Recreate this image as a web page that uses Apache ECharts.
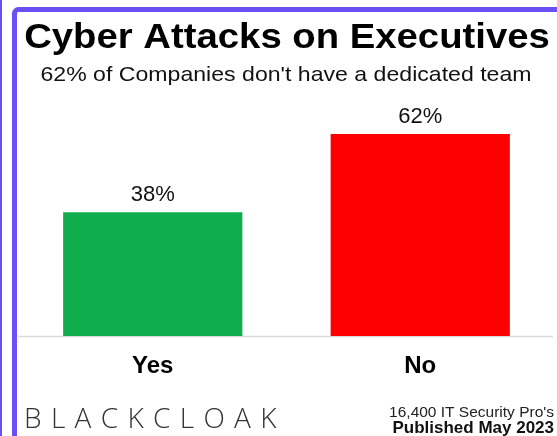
<!DOCTYPE html>
<html><head><meta charset="utf-8">
<script src="https://cdn.jsdelivr.net/npm/echarts@6/dist/echarts.min.js"></script>
<style>html,body{margin:0;padding:0;background:#fff}#c{width:557px;height:436px}</style>
</head><body><div id="c"></div>
<script>
const categories = ['Yes', 'No'];
const values = [38, 62];
const barColors = ['#10ad4f', '#ff0000'];
const titleText = 'Cyber Attacks on Executives';
const subtitleText = "62% of Companies don't have a dedicated team";
const brandText = 'BLACKCLOAK';
const noteLines = ["16,400 IT Security Pro's", 'Published May 2023'];

const chart = echarts.init(document.getElementById('c'));
const purple = '#6a4ff5';
chart.setOption({
  backgroundColor: '#fff',
  animation: false,
  grid: { left: 19, right: 3, top: 134, bottom: 100, containLabel: false },
  xAxis: {
    type: 'category', data: categories,
    axisLine: { show: false }, axisTick: { show: false },
    axisLabel: { margin: 18, fontFamily: 'Liberation Sans', fontWeight: 'bold', fontSize: 24, color: '#000' }
  },
  yAxis: { type: 'value', min: 0, max: 62, show: false, splitLine: { show: false } },
  series: [{
    type: 'bar', barWidth: '67%',
    data: values.map((v, i) => ({ value: v, itemStyle: { color: barColors[i] } })),
    label: { show: true, position: 'top', distance: 6, formatter: '{c}%',
      fontFamily: 'Liberation Sans', fontSize: 22, color: '#111' }
  }],
  graphic: [
    { type: 'rect', shape: { x: 0, y: 0, width: 2, height: 436 }, style: { fill: purple }, silent: true },
    { type: 'rect', shape: { x: 14.5, y: 9.5, width: 620, height: 520, r: 4 }, style: { fill: 'none', stroke: purple, lineWidth: 5 }, silent: true },
    { type: 'line', shape: { x1: 18, y1: 336.5, x2: 553, y2: 336.5 }, style: { stroke: '#dcdcdc', lineWidth: 1.5 }, silent: true },
    { type: 'text', x: 287, y: 21, scaleX: 1.094, style: { text: titleText, font: 'bold 35px "Liberation Sans"', fill: '#000', textAlign: 'center', textVerticalAlign: 'top' } },
    { type: 'text', x: 286, y: 65, scaleX: 1.10, style: { text: subtitleText, font: '21px "Liberation Sans"', fill: '#111', textAlign: 'center', textVerticalAlign: 'top' } },
    { type: 'text', x: 24, y: 406, style: { text: brandText.split('').join('\u2004'), font: '300 28px "Open Sans"', fill: '#333' } },
    { type: 'text', x: 554, y: 405, style: { text: noteLines[0], font: '15.5px "Liberation Sans"', fill: '#222', textAlign: 'right' } },
    { type: 'text', x: 554, y: 420, style: { text: noteLines[1], font: 'bold 17px "Liberation Sans"', fill: '#111', textAlign: 'right' } }
  ]
});
</script></body></html>
